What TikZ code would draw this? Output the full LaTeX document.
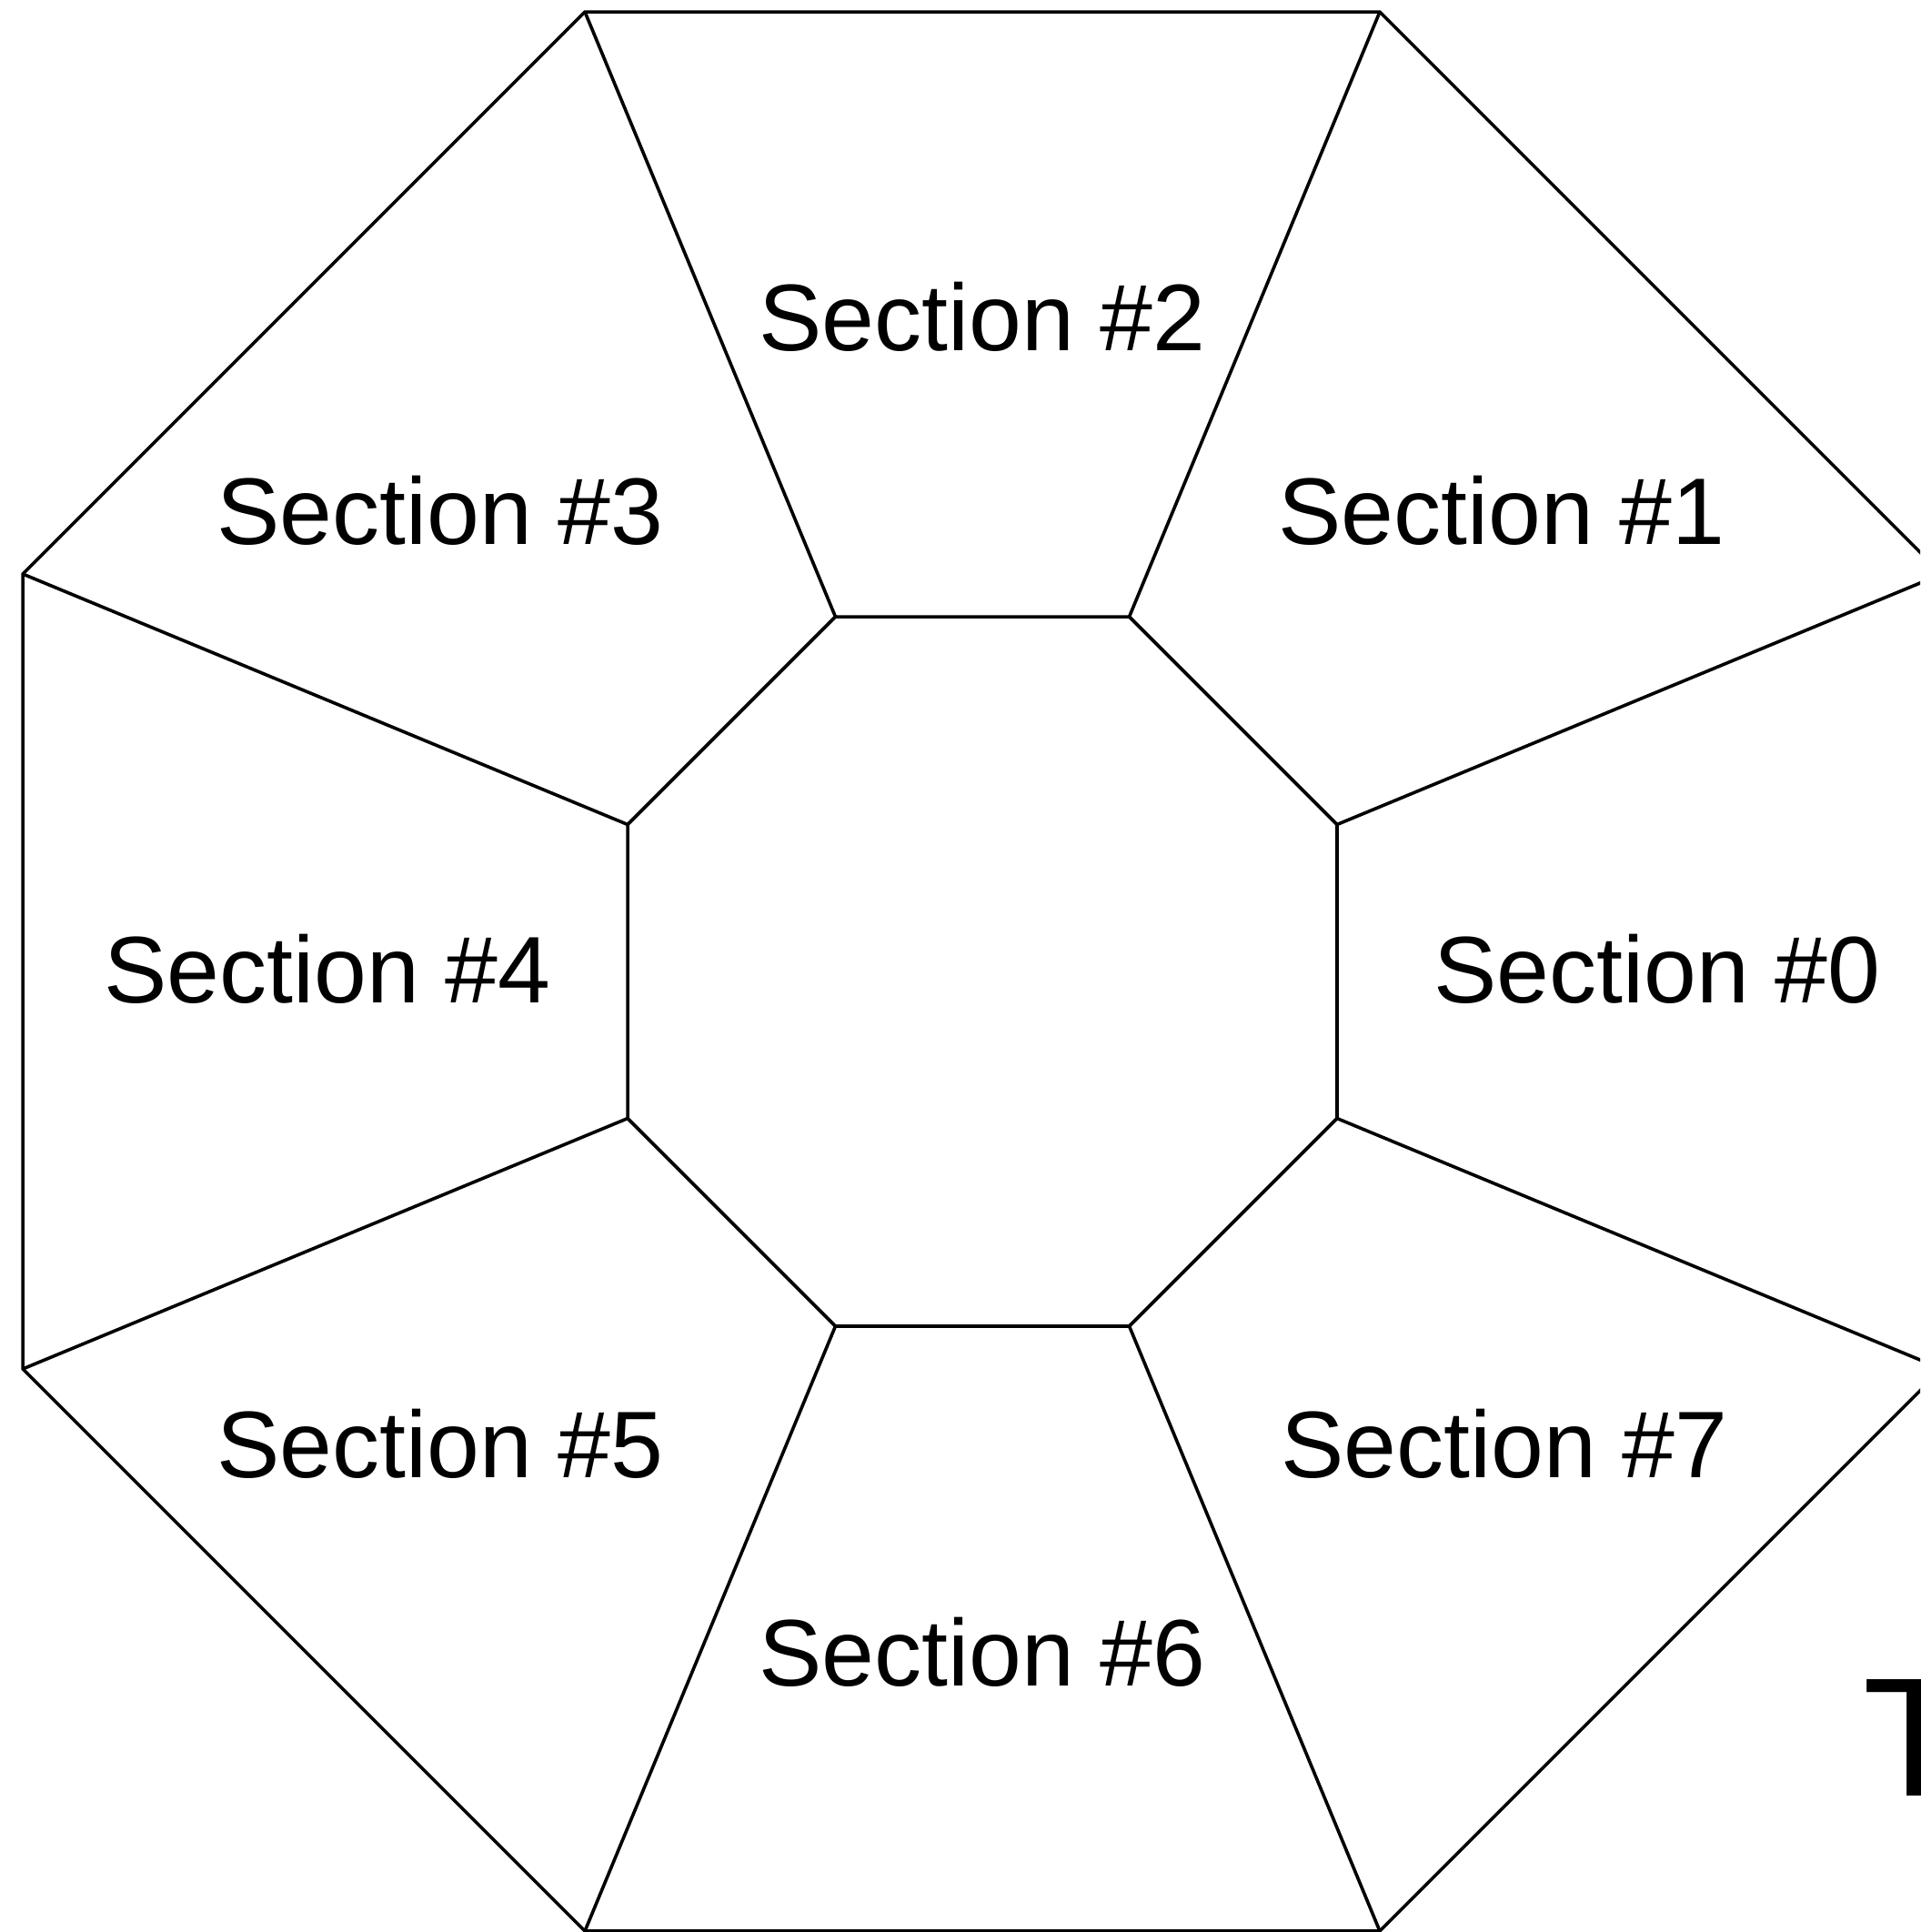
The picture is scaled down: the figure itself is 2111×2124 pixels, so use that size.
\documentclass[tikz,border=0pt]{standalone}
\usepackage{fontspec}
\setmainfont{Liberation Sans}
\begin{document}
\begin{tikzpicture}[x=1pt,y=-1pt,
  edge/.style={draw=black,line width=3.6pt,line join=miter},
  lbl/.style={anchor=base,inner sep=0pt,font=\fontsize{104}{120}\selectfont},
  bigtxt/.style={anchor=base west,inner sep=0pt,font=\fontsize{186}{200}\selectfont}]
\useasboundingbox (0,0) rectangle (2111,2124);
\clip (0,0) rectangle (2111,2124);
\fill[white] (0,0) rectangle (2111,2124);
\coordinate (c) at (1080,1068);
\foreach \k in {0,...,7}{
  \path (c) ++({22.5+45*\k}:1141.9) coordinate (o\k);
  \path (c) ++({22.5+45*\k}:422.1) coordinate (i\k);
}
\draw[edge] (o0) -- (o1) -- (o2) -- (o3) -- (o4) -- (o5) -- (o6) -- (o7) -- cycle;
\draw[edge] (i0) -- (i1) -- (i2) -- (i3) -- (i4) -- (i5) -- (i6) -- (i7) -- cycle;
\foreach \k in {0,...,7}{
  \draw[edge] (i\k) -- (o\k);
}
\node[lbl] (s0) at (1822,1102) {Section \#0};
\node[lbl] (s1) at (1651,598) {Section \#1};
\node[lbl] (s2) at (1080,385) {Section \#2};
\node[lbl] (s3) at (484,598) {Section \#3};
\node[lbl] (s4) at (360,1102) {Section \#4};
\node[lbl] (s5) at (484,1624) {Section \#5};
\node[lbl] (s7) at (1654,1624) {Section \#7};
\node[lbl] (s6) at (1080,1853) {Section \#6};
\node[bigtxt] (t) at (2048,1974) {T};
\end{tikzpicture}
\end{document}
